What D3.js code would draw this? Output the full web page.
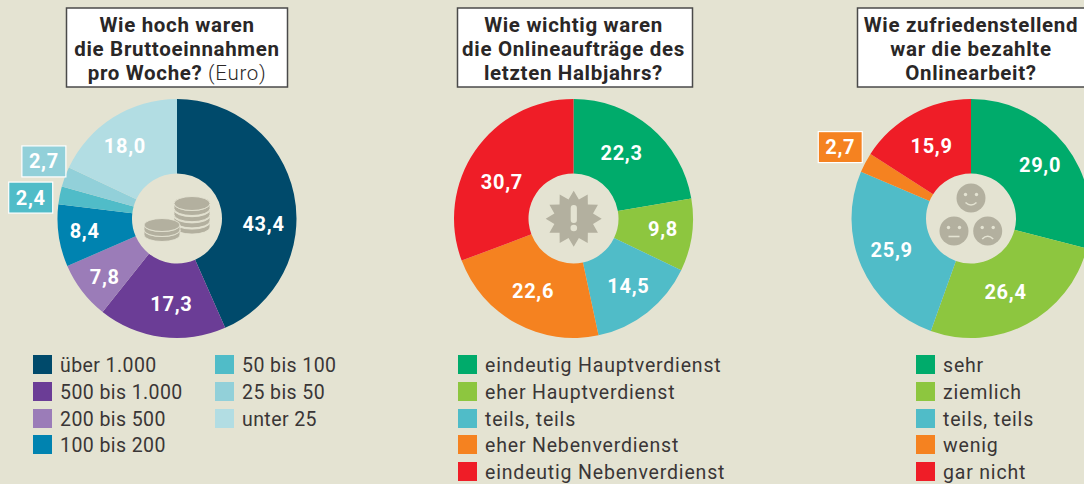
<!DOCTYPE html>
<html lang="de">
<head>
<meta charset="utf-8">
<title>Onlinearbeit</title>
<script src="https://cdn.jsdelivr.net/npm/d3@7"></script>
<style>
  html, body { margin: 0; padding: 0; background: #e4e3d2; overflow: hidden; }
  svg { display: block; }
  text { font-family: Roboto, sans-serif; }
  .title { font-size: 20.5px; font-weight: 700; fill: #2a2727; letter-spacing: 0.67px; text-anchor: middle; }
  .title .plain { font-weight: 300; }
  .value { font-size: 20px; font-weight: 700; fill: #fff; letter-spacing: 0.7px; text-anchor: middle; dominant-baseline: central; }
  .legend { font-size: 19.5px; fill: #3a3636; letter-spacing: 0.82px; dominant-baseline: central; }
  .legend.tight { letter-spacing: 0.42px; }
</style>
</head>
<body>
<svg id="chart" width="1084" height="484"></svg>
<script>
// Daten
var income_titles = [["Wie hoch waren"], ["die Bruttoeinnahmen"], ["pro Woche?", " (Euro)"]];
var income_cats = ["über 1.000", "500 bis 1.000", "200 bis 500", "100 bis 200", "50 bis 100", "25 bis 50", "unter 25"];
var income_vals = [43.4, 17.3, 7.8, 8.4, 2.4, 2.7, 18.0];
var income_cols = ["#004a6b", "#6b3d96", "#9b7cb8", "#0083b0", "#50bcc8", "#92d0d9", "#b2dde3"];

var orders_titles = [["Wie wichtig waren"], ["die Onlineaufträge des"], ["letzten Halbjahrs?"]];
var orders_cats = ["eindeutig Hauptverdienst", "eher Hauptverdienst", "teils, teils", "eher Nebenverdienst", "eindeutig Nebenverdienst"];
var orders_vals = [22.3, 9.8, 14.5, 22.6, 30.7];

var satisf_titles = [["Wie zufriedenstellend"], ["war die bezahlte"], ["Onlinearbeit?"]];
var satisf_cats = ["sehr", "ziemlich", "teils, teils", "wenig", "gar nicht"];
var satisf_vals = [29.0, 26.4, 25.9, 2.7, 15.9];

var five_cols = ["#00ab6b", "#8dc63f", "#50bcc8", "#f58220", "#ef1d27"];

// Layout
var cy = 218.5, outer_r = 119.5, inner_r = 45;
var bg = "#e4e3d2", icon_col = "#b3b09f";
var rows_y = [355, 382, 409, 435];
var rows_y5 = [355, 382, 409, 435, 462];

var charts = [
  { cx: 177, titles: income_titles, cats: income_cats, vals: income_vals, cols: income_cols,
    box: [66, 8, 221, 79], tight: true,
    legend: [{x: 33, from: 0, to: 4}, {x: 215, from: 4, to: 7}], rows: rows_y,
    nudge: [[6,22],[5,4],[-7,8],[-11,1],[-65.6,-5],[-56,-28.5],[-8,-3]], boxed: [4, 5] },
  { cx: 573.5, titles: orders_titles, cats: orders_cats, vals: orders_vals, cols: five_cols,
    box: [457, 8, 235, 79],
    legend: [{x: 458, from: 0, to: 5}], rows: rows_y5,
    nudge: [[-5,-3],[8,-1],[4,3],[-1,0],[-4,10]], boxed: [] },
  { cx: 971, titles: satisf_titles, cats: satisf_cats, vals: satisf_vals, cols: five_cols,
    box: [857, 8, 240, 79],
    legend: [{x: 916, from: 0, to: 5}], rows: rows_y5,
    nudge: [[4,-3],[-4,1],[-4,-2],[-58,-33],[0,0]], boxed: [3] }
];

var fmt = function (v) { return v.toFixed(1).replace(".", ","); };
var svg = d3.select("#chart");
svg.append("rect").attr("width", 1084).attr("height", 484).attr("fill", bg);

var pie = d3.pie().sort(null).value(function (d) { return d; });
var arc = d3.arc().innerRadius(inner_r).outerRadius(outer_r);

charts.forEach(function (c) {
  // Titelkasten
  svg.append("rect")
    .attr("x", c.box[0] + 0.5).attr("y", c.box[1])
    .attr("width", c.box[2]).attr("height", c.box[3])
    .attr("fill", "#fff").attr("stroke", "#4a4a4a").attr("stroke-width", 1.5);
  var title_y = [32, 56, 80];
  c.titles.forEach(function (parts, i) {
    var t = svg.append("text").attr("class", "title").attr("x", c.cx).attr("y", title_y[i]);
    t.append("tspan").text(parts[0]);
    if (parts[1]) t.append("tspan").attr("class", "plain").text(parts[1]);
  });

  // Ring
  var g = svg.append("g").attr("transform", "translate(" + c.cx + "," + cy + ")");
  var slices = pie(c.vals);
  g.selectAll("path").data(slices).enter().append("path")
    .attr("d", arc)
    .attr("fill", function (d, i) { return c.cols[i]; });

  // Werte
  slices.forEach(function (d, i) {
    var p = arc.centroid(d);
    var x = p[0] + c.nudge[i][0], y = p[1] + c.nudge[i][1];
    if (c.boxed.indexOf(i) >= 0) {
      g.append("rect")
        .attr("x", x - 22).attr("y", y - 15.5).attr("width", 44).attr("height", 31)
        .attr("fill", c.cols[i]).attr("stroke", "#fff").attr("stroke-width", 1.2);
    }
    g.append("text").attr("class", "value").attr("x", x).attr("y", y).text(fmt(d.value));
  });

  // Legende
  c.legend.forEach(function (col) {
    d3.range(col.from, col.to).forEach(function (i, k) {
      svg.append("rect").attr("x", col.x).attr("y", c.rows[k])
        .attr("width", 19).attr("height", 19).attr("fill", c.cols[i]);
      svg.append("text").attr("class", c.tight ? "legend tight" : "legend")
        .attr("x", col.x + 27).attr("y", c.rows[k] + 10).text(c.cats[i]);
    });
  });
});

// Symbole in der Mitte
function coin_stack(x, y, n, ry, step) {
  var g = svg.append("g").attr("transform", "translate(" + x + "," + y + ")");
  for (var i = n - 1; i >= 0; i--) {
    g.append("path")
      .attr("d", "M-18,0 A18," + ry + " 0 0 0 18,0 V5 A18," + ry + " 0 0 1 -18,5 Z")
      .attr("transform", "translate(0," + (i * step) + ")")
      .attr("fill", icon_col).attr("stroke", bg).attr("stroke-width", 0.9);
  }
  g.append("ellipse").attr("rx", 18).attr("ry", ry).attr("fill", icon_col).attr("stroke", bg).attr("stroke-width", 0.9);
}
coin_stack(192, 203.5, 4, 7, 6.2);
coin_stack(162, 225, 2, 6.5, 5);

// Stern
var star_pts = d3.range(24).map(function (i) {
  var a = i * Math.PI / 12, r = i % 2 ? 20 : 28;
  return [573.7 + r * Math.sin(a), 218.7 - r * Math.cos(a)];
});
svg.append("polygon").attr("points", star_pts.join(" ")).attr("fill", icon_col);
svg.append("rect").attr("x", 570.7).attr("y", 205).attr("width", 6.2).attr("height", 18).attr("rx", 3).attr("fill", bg);
svg.append("circle").attr("cx", 573.8).attr("cy", 228).attr("r", 3.3).attr("fill", bg);

// Gesichter
function face(x, y, mouth) {
  var g = svg.append("g").attr("transform", "translate(" + x + "," + y + ")");
  g.append("circle").attr("r", 14.5).attr("fill", icon_col);
  g.selectAll(".eye").data([-5.5, 5.5]).enter().append("circle")
    .attr("cx", function (d) { return d; }).attr("cy", -3.5).attr("r", 1.7).attr("fill", bg);
  g.append("path").attr("d", mouth).attr("fill", "none").attr("stroke", bg).attr("stroke-width", 1.6);
}
face(971, 198, "M-5.5,4.5 Q0,9.5 5.5,4.5");
face(954, 231, "M-5.5,5.5 H5.5");
face(987.7, 231, "M-5.5,8 Q0,2.5 5.5,8");
</script>
</body>
</html>
